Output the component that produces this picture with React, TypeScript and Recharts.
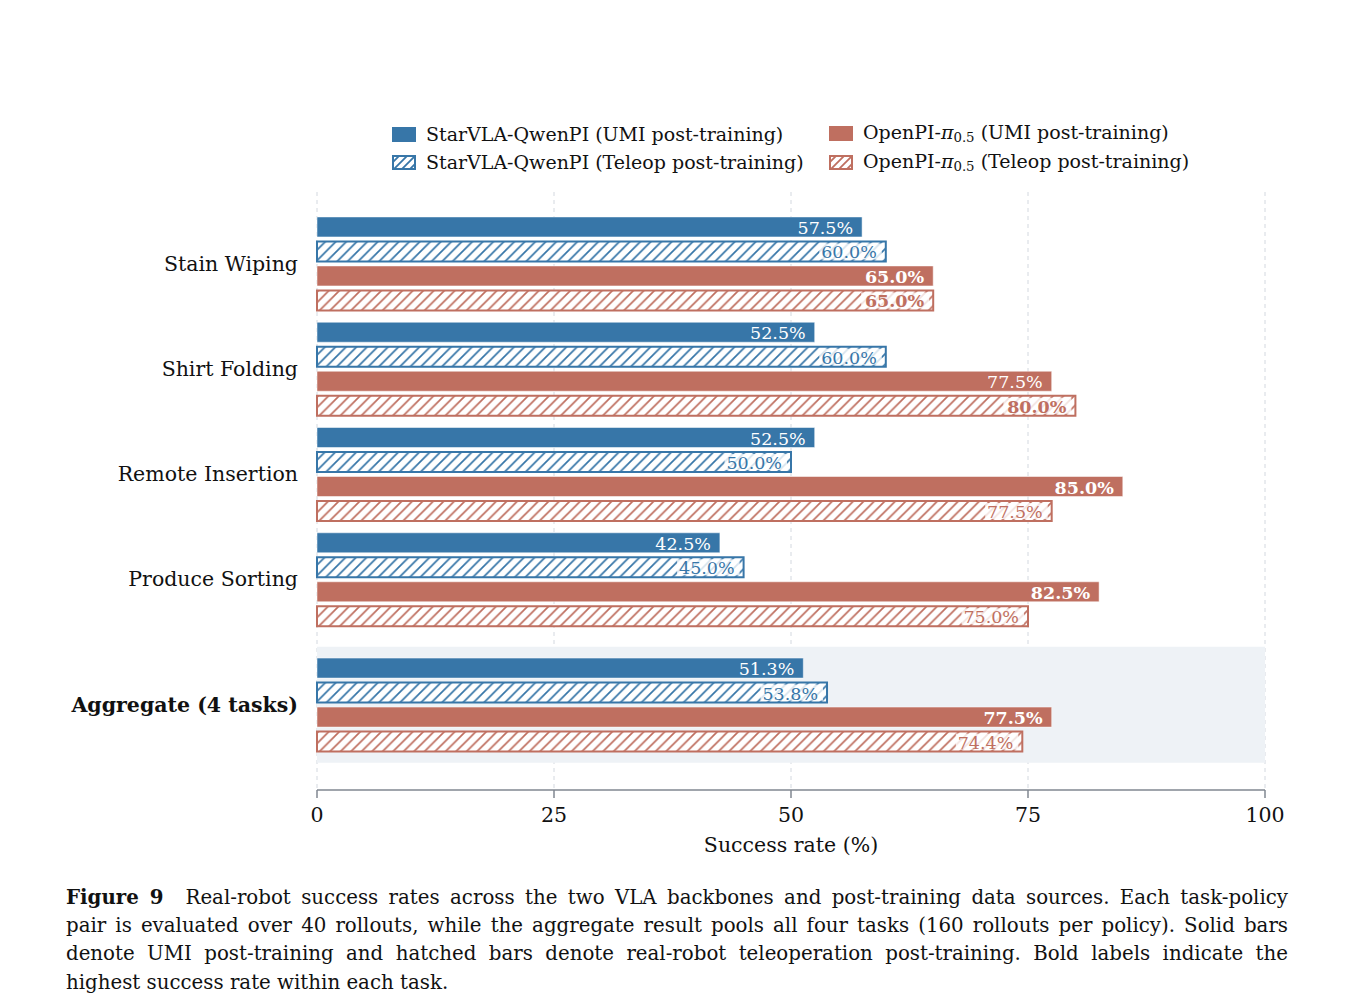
import React from 'react';
import { BarChart, Bar, XAxis, YAxis, CartesianGrid, ReferenceArea, LabelList } from 'recharts';

const tasks = ['Stain Wiping', 'Shirt Folding', 'Remote Insertion', 'Produce Sorting', 'Aggregate (4 tasks)'];
// row positions on the category axis (aggregate sits a bit further down)
const rowPos = [0, 1, 2, 3, 4.19];
const qwenUmi = [57.5, 52.5, 52.5, 42.5, 51.3];
const qwenTeleop = [60.0, 60.0, 50.0, 45.0, 53.8];
const piUmi = [65.0, 77.5, 85.0, 82.5, 77.5];
const piTeleop = [65.0, 80.0, 77.5, 75.0, 74.4];
const xTicks = [0, 25, 50, 75, 100];

const BLUE = '#3776a8';
const RED = '#bf6f60';
const FONT = '"DejaVu Serif", serif';

const data = tasks.map((task, i) => ({
  task,
  pos: rowPos[i],
  qwenUmi: qwenUmi[i],
  qwenTeleop: qwenTeleop[i],
  piUmi: piUmi[i],
  piTeleop: piTeleop[i],
}));

const rowMax = tasks.map((_, i) => Math.max(qwenUmi[i], qwenTeleop[i], piUmi[i], piTeleop[i]));

const series = [
  { key: 'qwenUmi', color: BLUE, hatched: false },
  { key: 'qwenTeleop', color: BLUE, hatched: true },
  { key: 'piUmi', color: RED, hatched: false },
  { key: 'piTeleop', color: RED, hatched: true },
];

const renderLabel = (s: any) => (props: any) => {
  const { x, y, width, height, value, index } = props;
  const bold = value === rowMax[index];
  const endX = x + width - 9;
  const cy = y + height / 2;
  const text = `${Number(value).toFixed(1)}%`;
  const textW = text.length * (bold ? 12.2 : 11.1);
  return (
    <g>
      {s.hatched && (
        <rect x={endX - textW - 2} y={y + 2} width={textW + 7} height={height - 4} fill="#fff" fillOpacity={0.8} />
      )}
      <text
        x={endX}
        y={cy + 1}
        textAnchor="end"
        dominantBaseline="central"
        fontFamily={FONT}
        fontSize={17.5}
        fontWeight={bold ? 'bold' : 'normal'}
        fill={s.hatched ? s.color : '#fff'}
      >
        {text}
      </text>
    </g>
  );
};

const TaskTick = (props: any) => {
  const { x, y, payload } = props;
  const i = rowPos.indexOf(payload.value);
  return (
    <text
      x={x}
      y={y}
      textAnchor="end"
      dominantBaseline="central"
      fontFamily={FONT}
      fontSize={20.5}
      fill="#111"
      fontWeight={i === tasks.length - 1 ? 'bold' : 'normal'}
    >
      {tasks[i]}
    </text>
  );
};

const Swatch = ({ color, hatched }: { color: string; hatched: boolean }) => (
  <svg width={24} height={15} style={{ display: 'block' }}>
    <defs>
      <pattern id={`lg-${color}`} patternUnits="userSpaceOnUse" width={8} height={8}>
        <rect width={8} height={8} fill="#fff" />
        <path d="M-2,10 L10,-2 M-2,2 L2,-2 M6,10 L10,6" stroke={color} strokeWidth={1.8} />
      </pattern>
    </defs>
    {hatched ? (
      <rect x={1} y={1} width={22} height={13} fill={`url(#lg-${color})`} stroke={color} strokeWidth={2} />
    ) : (
      <rect x={0} y={0} width={24} height={15} fill={color} />
    )}
  </svg>
);

const Pi = () => (
  <span>
    OpenPI-<i>π</i>
    <sub style={{ fontSize: '0.7em', verticalAlign: '-0.25em' }}>0.5</sub>
  </span>
);

const legendItems = [
  { left: 392, top: 134, color: BLUE, hatched: false, label: <span>StarVLA-QwenPI (UMI post-training)</span> },
  { left: 392, top: 162, color: BLUE, hatched: true, label: <span>StarVLA-QwenPI (Teleop post-training)</span> },
  { left: 829, top: 133, color: RED, hatched: false, label: <span><Pi /> (UMI post-training)</span> },
  { left: 829, top: 162, color: RED, hatched: true, label: <span><Pi /> (Teleop post-training)</span> },
];

const captionLines = [
  'Real-robot success rates across the two VLA backbones and post-training data sources. Each task-policy',
  'pair is evaluated over 40 rollouts, while the aggregate result pools all four tasks (160 rollouts per policy). Solid bars',
  'denote UMI post-training and hatched bars denote real-robot teleoperation post-training. Bold labels indicate the',
  'highest success rate within each task.',
];

export default function App() {
  return (
    <div style={{ position: 'absolute', left: 0, top: 0, width: 1355, height: 1008, background: '#fff', fontFamily: FONT }}>
      <BarChart
        width={1355}
        height={870}
        data={data}
        layout="vertical"
        margin={{ top: 192, right: 90, bottom: 10, left: 67 }}
        barGap={4.5}
      >
        <defs>
          <pattern id="hatch-blue" patternUnits="userSpaceOnUse" width={10.5} height={10.5}>
            <rect width={10.5} height={10.5} fill="#fff" />
            <path d="M-2,12.5 L12.5,-2 M-2,2 L2,-2 M8.5,12.5 L12.5,8.5" stroke={BLUE} strokeWidth={1.7} />
          </pattern>
          <pattern id="hatch-red" patternUnits="userSpaceOnUse" width={10.5} height={10.5}>
            <rect width={10.5} height={10.5} fill="#fff" />
            <path d="M-2,12.5 L12.5,-2 M-2,2 L2,-2 M8.5,12.5 L12.5,8.5" stroke={RED} strokeWidth={1.7} />
          </pattern>
        </defs>
        <ReferenceArea x1={0} x2={100} y1={rowPos[4] - 0.55} y2={rowPos[4] + 0.55} fill="#eef2f6" fillOpacity={1} stroke="none" />
        <CartesianGrid horizontal={false} strokeDasharray="4 4" stroke="#d3d8df" />
        <XAxis
          type="number"
          domain={[0, 100]}
          ticks={xTicks}
          tickSize={8}
          tickMargin={9}
          axisLine={{ stroke: '#808790', strokeWidth: 1.5 }}
          tickLine={{ stroke: '#808790', strokeWidth: 1.5 }}
          tick={{ fontFamily: FONT, fontSize: 20.5, fill: '#111' }}
          height={70}
          label={{ value: 'Success rate (%)', position: 'insideBottom', offset: 8, fontFamily: FONT, fontSize: 20.5, fill: '#111' }}
        />
        <YAxis
          type="number"
          dataKey="pos"
          domain={[-0.68, 5.0]}
          ticks={rowPos}
          interval={0}
          width={250}
          axisLine={false}
          tickLine={false}
          tickSize={0}
          tickMargin={19}
          tick={<TaskTick />}
        />
        {series.map((s) => (
          <Bar
            key={s.key}
            dataKey={s.key}
            barSize={20}
            fill={s.hatched ? `url(#hatch-${s.color === BLUE ? 'blue' : 'red'})` : s.color}
            stroke={s.hatched ? s.color : '#ffffff'}
            strokeOpacity={s.hatched ? 1 : 0.5}
            strokeWidth={s.hatched ? 2 : 1}
            isAnimationActive={false}
          >
            <LabelList dataKey={s.key} content={renderLabel(s)} />
          </Bar>
        ))}
      </BarChart>

      {legendItems.map((it, i) => (
        <div
          key={i}
          style={{ position: 'absolute', left: it.left, top: it.top - 12, height: 24, display: 'flex', alignItems: 'center', gap: 10, fontSize: 19, color: '#111', whiteSpace: 'nowrap' }}
        >
          <Swatch color={it.color} hatched={it.hatched} />
          {it.label}
        </div>
      ))}

      <div style={{ position: 'absolute', left: 66, top: 883, width: 1222, fontSize: 19.8, color: '#111' }}>
        {captionLines.map((line, i) => (
          <div
            key={i}
            style={{
              height: 28.5,
              lineHeight: '28.5px',
              textAlign: 'justify',
              textAlignLast: i < captionLines.length - 1 ? 'justify' : 'left',
              whiteSpace: 'nowrap',
            }}
          >
            {i === 0 && <b>Figure 9&nbsp;&nbsp;</b>}
            {line}
          </div>
        ))}
      </div>
    </div>
  );
}
